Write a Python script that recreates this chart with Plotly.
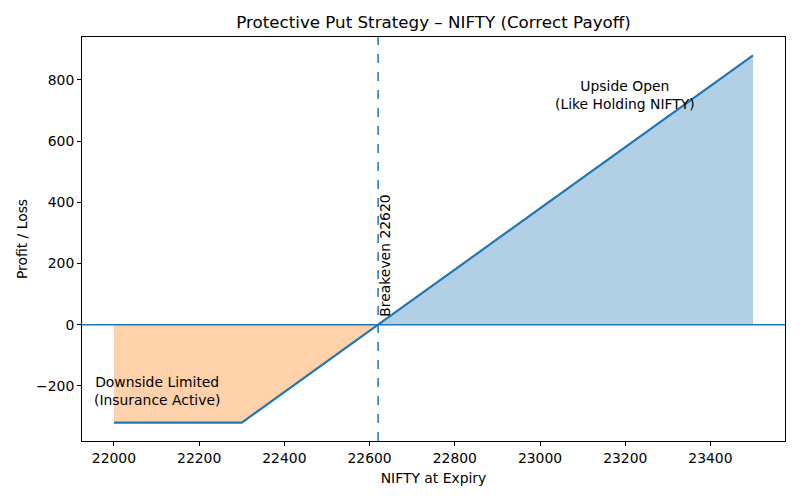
import plotly.graph_objects as go

# Protective put on NIFTY: payoff at expiry
nifty_levels = [22000, 22300, 22620, 23500]
payoff = [-320, -320, 0, 880]
breakeven = 22620

loss_x = [x for x in nifty_levels if x <= breakeven]
loss_y = payoff[:len(loss_x)]
profit_x = [x for x in nifty_levels if x >= breakeven]
profit_y = payoff[len(nifty_levels) - len(profit_x):]

BLUE = '#1f77b4'
FONT = 'DejaVu Sans'
TXT = 13.9

fig = go.Figure()

fig.add_trace(go.Scatter(
    x=loss_x, y=loss_y, mode='lines', line=dict(width=0),
    fill='tozeroy', fillcolor='rgba(255,127,14,0.35)', hoverinfo='skip'
))
fig.add_trace(go.Scatter(
    x=profit_x, y=profit_y, mode='lines', line=dict(width=0),
    fill='tozeroy', fillcolor='rgba(31,119,180,0.35)', hoverinfo='skip'
))
fig.add_trace(go.Scatter(
    x=nifty_levels, y=payoff, mode='lines', line=dict(color=BLUE, width=2.2)
))

fig.add_hline(y=0, line=dict(color=BLUE, width=1.5))
fig.add_vline(x=breakeven, line=dict(color=BLUE, width=1.5, dash='dash'))

fig.add_annotation(
    x=breakeven, y=20, text=f'Breakeven {breakeven}', textangle=-90,
    showarrow=False, xanchor='left', yanchor='bottom', xshift=-4,
    font=dict(family=FONT, size=TXT, color='black')
)
fig.add_annotation(
    x=22100, y=-215, text='Downside Limited<br>(Insurance Active)',
    showarrow=False, font=dict(family=FONT, size=TXT, color='black')
)
fig.add_annotation(
    x=23200, y=750, text='Upside Open<br>(Like Holding NIFTY)',
    showarrow=False, font=dict(family=FONT, size=TXT, color='black')
)

axis_style = dict(
    showgrid=False, zeroline=False, showline=True, mirror=True,
    linecolor='black', linewidth=1, ticks='outside', ticklen=4,
    tickcolor='black', tickfont=dict(family=FONT, size=TXT, color='black'),
    automargin=False, tickformat='d',
)

fig.update_layout(
    width=800, height=500,
    plot_bgcolor='white', paper_bgcolor='white',
    showlegend=False,
    margin=dict(l=82, r=15, t=37, b=59, autoexpand=False),
    title=dict(
        text='Protective Put Strategy – NIFTY (Correct Payoff)',
        x=0.5, xref='paper', y=1 - 22 / 500, yref='container', yanchor='middle',
        font=dict(family=FONT, size=16.7, color='black')
    ),
    xaxis=dict(
        range=[21925, 23575], tickvals=list(range(22000, 23401, 200)),
        title=dict(text='NIFTY at Expiry', standoff=8,
                   font=dict(family=FONT, size=TXT, color='black')),
        **axis_style
    ),
    yaxis=dict(
        range=[-380, 940], tickvals=list(range(-200, 801, 200)),
        title=dict(text='Profit / Loss', standoff=5,
                   font=dict(family=FONT, size=TXT, color='black')),
        **axis_style
    ),
)

# drop the default page margin so the figure sits at the window's corner
fig.write_html('out.html', config={'displayModeBar': False},
               post_script="document.body.style.margin='0';")
